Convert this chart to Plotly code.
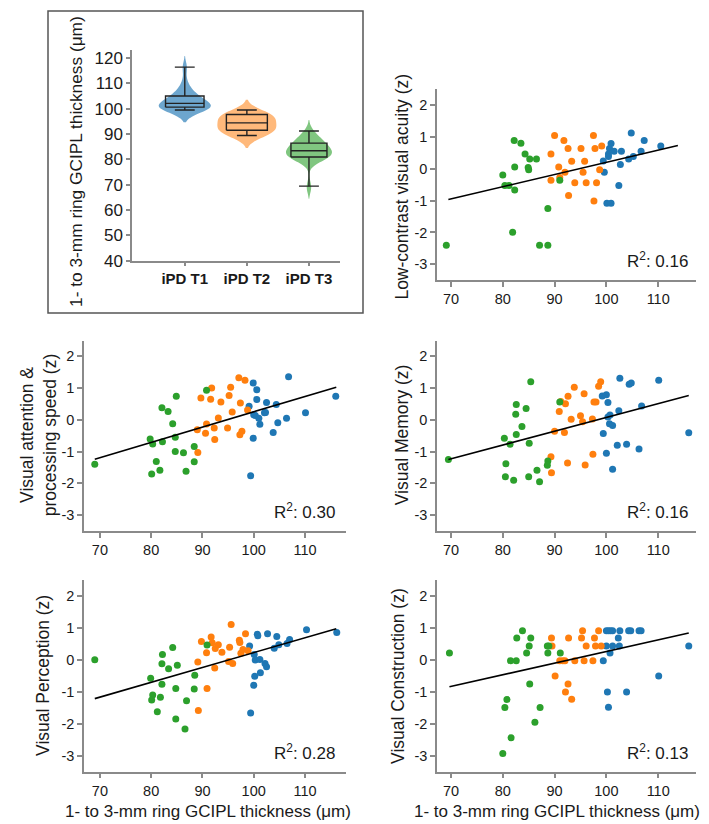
import plotly.graph_objects as go
import numpy as np

FONT = "Liberation Sans, Arial, sans-serif"
COLORS = ["#1f77b4", "#ff7f0e", "#2ca02c"]
VIOLIN_FILL = ["rgba(31,119,180,0.65)", "rgba(255,127,14,0.55)", "rgba(44,160,44,0.6)"]

# ---------------- violin panel data ----------------
GROUPS = ["iPD T1", "iPD T2", "iPD T3"]
BOX_LO = [99.5, 89.4, 69.4]
BOX_Q1 = [100.6, 91.5, 80.9]
BOX_MED = [102.1, 94.4, 83.4]
BOX_Q3 = [105.0, 97.7, 86.4]
BOX_HI = [116.4, 99.5, 91.2]
VIOLIN_Y_TICKS = [40, 50, 60, 70, 80, 90, 100, 110, 120]

# ---------------- scatter panels data ----------------
LCVA_T1_X = [99.4, 99.6, 100.4, 100.4, 100.6, 100.9, 101.5, 100.1, 100.9, 102.4, 102.7, 102.9, 104.3, 104.8, 105.2, 106.7, 107.3, 110.5]
LCVA_T1_Y = [0.24, -0.11, 0.46, 0.38, 0.63, 0.79, 0.55, -1.08, -1.08, -0.53, 0.13, 0.55, 0.30, 1.12, 0.38, 0.55, 0.88, 0.71]
LCVA_T2_X = [90.0, 91.8, 92.6, 89.3, 90.8, 89.3, 91.0, 92.0, 93.3, 93.9, 92.7, 95.1, 95.5, 95.8, 96.1, 97.5, 97.8, 98.1, 97.6, 99.1, 98.7]
LCVA_T2_Y = [1.04, 0.88, 0.63, 0.46, 0.05, -0.36, -0.28, -0.11, 0.23, -0.44, -0.84, 0.63, -0.11, 0.23, -0.44, 1.04, 0.63, -0.44, -1.01, 0.71, -0.03]
LCVA_T3_X = [80.0, 80.4, 81.2, 82.2, 83.5, 82.3, 82.3, 84.3, 84.9, 85.0, 85.2, 86.5, 91.0, 88.7, 81.9, 69.1, 87.1, 88.7]
LCVA_T3_Y = [-0.20, -0.53, -0.53, 0.88, 0.80, 0.05, -0.67, 0.46, 0.04, -0.03, 0.30, 0.30, -0.36, -1.25, -1.99, -2.40, -2.40, -2.40]

VAPS_T1_X = [99.1, 99.9, 100.6, 100.6, 100.0, 100.3, 99.9, 101.0, 101.2, 102.1, 102.3, 102.5, 103.8, 104.4, 104.7, 106.4, 106.8, 110.1, 116.0, 99.4]
VAPS_T1_Y = [0.43, 1.16, 0.95, 0.64, 0.16, 0.14, -0.58, 0.05, -0.14, 0.22, 0.23, 0.55, -0.40, 0.48, -0.09, 0.05, 1.36, 0.22, 0.74, -1.76]
VAPS_T2_X = [89.1, 89.0, 89.7, 90.8, 90.6, 91.6, 91.8, 92.3, 92.4, 93.1, 93.6, 94.9, 95.2, 95.5, 95.8, 97.1, 98.3, 97.4, 97.3, 97.7, 98.8]
VAPS_T2_Y = [-1.03, -0.31, 0.69, -0.13, -0.42, 0.65, 1.00, -0.26, -0.62, 0.06, 0.56, -0.26, 0.77, 1.03, 0.25, 1.33, 1.25, 0.53, -0.47, -0.36, 0.31]
VAPS_T3_X = [69.0, 79.8, 80.3, 82.1, 83.3, 82.2, 84.2, 84.7, 84.9, 81.0, 80.1, 81.7, 84.7, 86.3, 88.4, 88.4, 86.8, 90.8]
VAPS_T3_Y = [-1.40, -0.60, -0.76, 0.38, 0.26, -0.69, -0.12, -0.55, 0.74, -1.31, -1.71, -1.59, -1.00, -1.04, -0.84, -1.32, -1.62, 0.93]

MEM_T1_X = [99.2, 100.0, 100.3, 99.4, 100.0, 100.3, 100.7, 100.6, 101.2, 101.2, 102.1, 102.4, 102.6, 103.9, 104.4, 104.8, 106.3, 106.8, 110.1, 115.9]
MEM_T1_Y = [0.75, 0.79, 0.55, -0.43, -1.05, 0.09, 0.15, -0.12, -0.18, -1.56, -0.80, 0.29, 1.31, -0.77, 1.12, 1.16, -0.92, 0.44, 1.25, -0.41]
MEM_T2_X = [89.3, 89.4, 90.0, 91.2, 90.9, 91.9, 92.1, 92.6, 93.2, 92.5, 93.8, 95.0, 95.4, 95.7, 95.9, 97.3, 97.4, 97.6, 98.0, 98.5, 98.9]
MEM_T2_Y = [-1.16, -1.67, -0.36, 0.58, 0.26, -0.40, 0.51, 0.74, 0.02, -1.36, 1.03, 0.13, -0.06, 0.82, -1.42, 0.03, -1.08, 0.56, 0.56, 1.06, 1.20]
MEM_T3_X = [69.5, 80.3, 81.4, 82.6, 82.5, 82.6, 83.7, 84.5, 85.1, 85.4, 80.6, 80.5, 82.1, 85.0, 86.6, 87.1, 88.7, 88.6, 91.0]
MEM_T3_Y = [-1.25, -0.58, -0.77, 0.48, 0.18, -0.46, -0.21, 0.36, -0.74, 1.20, -1.38, -1.79, -1.90, -1.79, -1.59, -1.95, -1.30, -1.43, 0.56]

PERC_T1_X = [99.2, 100.1, 100.3, 101.2, 100.7, 100.8, 100.2, 100.0, 101.3, 102.2, 102.5, 102.7, 99.4, 104.0, 104.5, 104.9, 106.5, 107.0, 110.3, 116.2]
PERC_T1_Y = [0.44, 0.17, 0.00, 0.02, 0.81, 0.76, -0.51, -0.79, -0.40, -0.11, -0.21, 0.82, -1.66, 0.37, 0.74, 0.48, 0.52, 0.64, 0.95, 0.86]
PERC_T2_X = [89.2, 89.1, 89.8, 90.8, 90.9, 91.7, 91.9, 92.5, 92.4, 93.1, 93.8, 95.1, 95.3, 95.6, 95.9, 97.2, 97.3, 97.5, 97.9, 98.4, 98.9]
PERC_T2_Y = [-1.58, -0.06, 0.58, 0.23, -0.89, 0.72, 0.54, 0.36, -0.25, 0.48, 0.24, -0.05, 0.40, 1.11, -0.11, 0.62, 0.55, 0.21, 0.33, 0.82, 0.29]
PERC_T3_X = [69.0, 79.9, 80.3, 80.1, 82.2, 82.1, 82.1, 81.2, 81.8, 83.4, 84.2, 85.1, 84.8, 84.8, 86.9, 88.5, 88.4, 90.9, 86.6]
PERC_T3_Y = [0.01, -0.57, -1.10, -1.25, 0.17, -0.12, -0.76, -1.62, -1.17, -0.27, 0.39, -0.16, -0.89, -1.85, -1.28, -0.48, -0.91, 0.47, -2.16]

CONS_T1_X = [99.4, 100.0, 100.0, 100.4, 100.8, 101.2, 101.2, 100.7, 102.3, 102.5, 102.6, 104.3, 104.7, 106.3, 106.7, 100.2, 103.9, 100.4, 110.1, 115.9]
CONS_T1_Y = [-0.02, 0.44, 0.92, 0.92, 0.92, 0.92, 0.44, 0.22, 0.69, 0.44, 0.92, 0.92, 0.92, 0.92, 0.92, -1.00, -1.00, -1.48, -0.50, 0.44]
CONS_T2_X = [89.4, 89.5, 90.1, 91.0, 91.6, 92.0, 92.1, 92.6, 92.7, 93.3, 93.9, 95.2, 95.4, 95.7, 96.1, 97.4, 97.7, 97.9, 98.5, 99.0]
CONS_T2_Y = [0.69, 0.44, -0.50, -0.02, -0.02, -0.02, -1.00, -0.75, 0.69, -1.23, -0.02, 0.69, 0.92, -0.02, 0.44, -0.02, 0.69, 0.44, 0.92, 0.44]
CONS_T3_X = [69.7, 81.5, 82.6, 82.7, 83.8, 85.1, 84.6, 85.4, 85.2, 88.6, 88.9, 88.7, 91.1, 80.8, 80.4, 87.2, 86.2, 81.6, 80.0]
CONS_T3_Y = [0.22, -0.02, -0.02, 0.69, 0.92, 0.44, 0.22, 0.69, -0.75, 0.44, 0.44, 0.22, 0.22, -1.24, -1.49, -1.49, -1.95, -2.44, -2.93]

# regression lines
FIT_SLOPE = [0.0382, 0.0482, 0.0435, 0.0465, 0.0364]
FIT_INTERCEPT = [-3.621, -4.566, -4.275, -4.418, -3.374]
FIT_XMIN = [69.5, 69.0, 69.5, 69.0, 69.7]
FIT_XMAX = [113.8, 116.1, 115.9, 116.1, 115.9]
R2 = [0.16, 0.30, 0.16, 0.28, 0.13]

PANEL_TITLES = ["Low-contrast visual acuity (z)", "Visual attention &<br>processing speed (z)",
                "Visual Memory (z)", "Visual Perception (z)", "Visual Construction (z)"]
X_TITLE = "1- to 3-mm ring GCIPL thickness (\u03bcm)"
X_TICKS = [70, 80, 90, 100, 110]
Y_TICKS = [-3, -2, -1, 0, 1, 2]
Y_TICKTEXT = ["-3", "-2", "-1", "0", "1", "2"]

PANELS = [
    [(LCVA_T1_X, LCVA_T1_Y), (LCVA_T2_X, LCVA_T2_Y), (LCVA_T3_X, LCVA_T3_Y)],
    [(VAPS_T1_X, VAPS_T1_Y), (VAPS_T2_X, VAPS_T2_Y), (VAPS_T3_X, VAPS_T3_Y)],
    [(MEM_T1_X, MEM_T1_Y), (MEM_T2_X, MEM_T2_Y), (MEM_T3_X, MEM_T3_Y)],
    [(PERC_T1_X, PERC_T1_Y), (PERC_T2_X, PERC_T2_Y), (PERC_T3_X, PERC_T3_Y)],
    [(CONS_T1_X, CONS_T1_Y), (CONS_T2_X, CONS_T2_Y), (CONS_T3_X, CONS_T3_Y)],
]
GCIPL_BY_GROUP = [PERC_T1_X, PERC_T2_X, PERC_T3_X]

# ---------------- layout geometry (pixels) ----------------
W, H = 709, 824
def px_x(a, b):
    return [a / W, b / W]
def px_y(top, bottom):
    return [1 - bottom / H, 1 - top / H]

VIOLIN_DOM = (px_x(124, 332), px_y(42, 255))
PANEL_DOMS = [
    (px_x(429, 688), px_y(81, 275)),
    (px_x(76, 338), px_y(336, 529)),
    (px_x(429, 688), px_y(336, 529)),
    (px_x(76, 338), px_y(579, 773)),
    (px_x(429, 688), px_y(579, 773)),
]
PANEL_XRANGE = [[67.3, 117.3], [66.9, 118.0], [67.3, 117.3], [66.9, 118.0], [67.3, 117.3]]
TITLE_POS = [(394, 180), (30, 432), (394, 432), (35, 676), (390, 676)]
XTITLE_POS = [(200, 813), (549, 813)]

fig = go.Figure()
AX_COLOR = "#8a8a8a"
TXT = "#1a1a1a"

# violin panel
VIOLIN_W = [0.84, 0.95, 0.74]
BOX_HALF = [0.31, 0.33, 0.29]
CAP_HALF = 0.16
for i in range(3):
    fig.add_trace(go.Violin(
        y=GCIPL_BY_GROUP[i], x0=i, name=GROUPS[i], width=VIOLIN_W[i],
        bandwidth=2.3, spanmode="soft", points=False,
        box_visible=False, meanline_visible=False,
        fillcolor=VIOLIN_FILL[i], line=dict(width=0, color=VIOLIN_FILL[i]),
        opacity=1, xaxis="x", yaxis="y", showlegend=False, hoverinfo="skip"))
bx, by = [], []
for i in range(3):
    b = BOX_HALF[i]
    bx += [i - b, i + b, i + b, i - b, i - b, None]
    by += [BOX_Q1[i], BOX_Q1[i], BOX_Q3[i], BOX_Q3[i], BOX_Q1[i], None]
    bx += [i - b, i + b, None]
    by += [BOX_MED[i], BOX_MED[i], None]
    bx += [i, i, None, i, i, None]
    by += [BOX_Q3[i], BOX_HI[i], None, BOX_Q1[i], BOX_LO[i], None]
    bx += [i - CAP_HALF, i + CAP_HALF, None, i - CAP_HALF, i + CAP_HALF, None]
    by += [BOX_HI[i], BOX_HI[i], None, BOX_LO[i], BOX_LO[i], None]
fig.add_trace(go.Scatter(x=bx, y=by, mode="lines", line=dict(color="#222", width=1.4),
                         xaxis="x", yaxis="y", showlegend=False, hoverinfo="skip"))

layout = dict(
    width=W, height=H, autosize=False, margin=dict(l=0, r=0, t=0, b=0),
    paper_bgcolor="white", plot_bgcolor="white", showlegend=False,
    font=dict(family=FONT, color=TXT),
)
common_axis = dict(showline=True, linecolor=AX_COLOR, linewidth=1.5, ticks="outside",
                   tickcolor=AX_COLOR, tickwidth=1.5, showgrid=False, zeroline=False)
layout["xaxis"] = dict(domain=VIOLIN_DOM[0], anchor="y", range=[-0.85, 2.5],
                       tickvals=[0, 1, 2], ticktext=GROUPS, ticklen=4,
                       tickfont=dict(size=15, family=FONT, color=TXT, weight="bold"), **common_axis)
layout["yaxis"] = dict(domain=VIOLIN_DOM[1], anchor="x", range=[40, 123],
                       tickvals=VIOLIN_Y_TICKS, ticklen=4,
                       tickfont=dict(size=17, family=FONT, color=TXT), **common_axis)

annotations = []
for p in range(5):
    xa = "x%d" % (p + 2)
    ya = "y%d" % (p + 2)
    for g in range(3):
        xs, ys = PANELS[p][g]
        fig.add_trace(go.Scatter(x=xs, y=ys, mode="markers",
                                 marker=dict(color=COLORS[g], size=7, line=dict(width=0)),
                                 xaxis=xa, yaxis=ya, showlegend=False, hoverinfo="skip"))
    fx = np.array([FIT_XMIN[p], FIT_XMAX[p]])
    fy = FIT_INTERCEPT[p] + FIT_SLOPE[p] * fx
    fig.add_trace(go.Scatter(x=fx, y=fy, mode="lines", line=dict(color="black", width=1.6),
                             xaxis=xa, yaxis=ya, showlegend=False, hoverinfo="skip"))
    layout["xaxis%d" % (p + 2)] = dict(domain=PANEL_DOMS[p][0], anchor=ya, range=PANEL_XRANGE[p],
                                       tickvals=X_TICKS, ticklen=5,
                                       tickfont=dict(size=14.5, family=FONT, color=TXT), **common_axis)
    layout["yaxis%d" % (p + 2)] = dict(domain=PANEL_DOMS[p][1], anchor=xa, range=[-3.5, 2.5],
                                       tickvals=Y_TICKS, ticktext=Y_TICKTEXT, ticklen=5,
                                       tickfont=dict(size=14.5, family=FONT, color=TXT), **common_axis)
    annotations.append(dict(xref=xa, yref=ya, x=116.2, y=-2.87, xanchor="right", yanchor="middle",
                            text="R<sup>2</sup>: %.2f" % R2[p], showarrow=False,
                            font=dict(size=17, family=FONT, color=TXT)))
    tx, ty = TITLE_POS[p]
    annotations.append(dict(xref="paper", yref="paper", x=tx / W, y=1 - ty / H, xanchor="center",
                            yanchor="middle", text=PANEL_TITLES[p], textangle=-90, showarrow=False,
                            font=dict(size=17.5, family=FONT, color=TXT)))

annotations.append(dict(xref="paper", yref="paper", x=68 / W, y=1 - 155 / H, xanchor="center",
                        yanchor="middle", text=X_TITLE, textangle=-90, showarrow=False,
                        font=dict(size=17.3, family=FONT, color=TXT)))
for (tx, ty) in XTITLE_POS:
    annotations.append(dict(xref="paper", yref="paper", x=tx / W, y=1 - ty / H, xanchor="center",
                            yanchor="middle", text=X_TITLE, showarrow=False,
                            font=dict(size=17, family=FONT, color=TXT)))
layout["annotations"] = annotations
layout["shapes"] = [dict(type="rect", xref="paper", yref="paper", x0=40 / W, x1=355 / W,
                         y0=1 - 308 / H, y1=1 - 2 / H, line=dict(color="#555", width=1.5),
                         fillcolor="rgba(0,0,0,0)")]
fig.update_layout(**layout)
fig.write_html("out.html", config={"displayModeBar": False})
